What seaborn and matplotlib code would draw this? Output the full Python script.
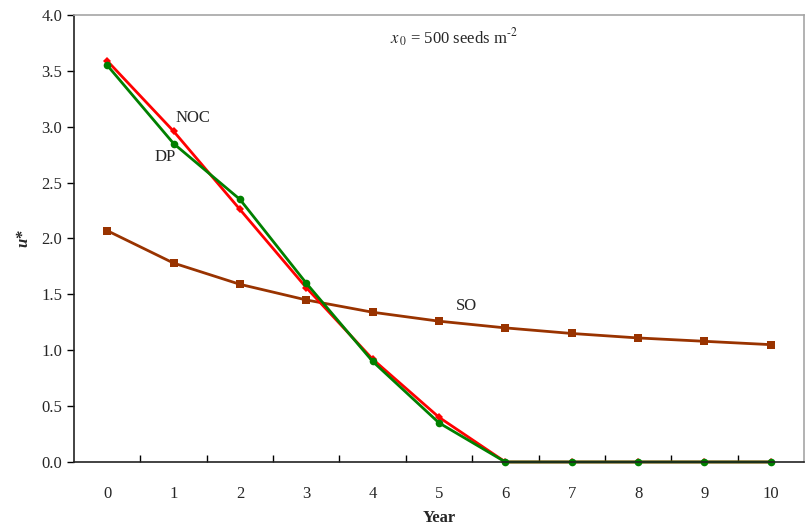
import pandas as pd
import matplotlib
matplotlib.use("Agg")
import matplotlib.pyplot as plt
import seaborn as sns

years = list(range(11))
noc = [3.59, 2.96, 2.26, 1.56, 0.92, 0.40, 0, 0, 0, 0, 0]
dp = [3.55, 2.85, 2.35, 1.60, 0.90, 0.35, 0, 0, 0, 0, 0]
so = [2.07, 1.78, 1.59, 1.45, 1.34, 1.26, 1.20, 1.15, 1.11, 1.08, 1.05]

sns.set_style("white")
plt.rcParams['font.family'] = ['Liberation Serif', 'DejaVu Serif']

df = pd.DataFrame({"Year": years, "NOC": noc, "DP": dp, "SO": so})

fig = plt.figure(figsize=(8.09, 5.26), dpi=100)
ax = fig.add_axes([0.0915, 0.1217, 0.9023, 0.8498])

sns.lineplot(data=df, x="Year", y="SO", ax=ax, color="#993300", marker="s",
             markersize=6, markeredgewidth=0, linewidth=2, clip_on=False)
sns.lineplot(data=df, x="Year", y="NOC", ax=ax, color="#ff0000", marker="D",
             markersize=4.5, markeredgewidth=0, linewidth=2, clip_on=False)
sns.lineplot(data=df, x="Year", y="DP", ax=ax, color="#008000", marker="o",
             markersize=5.5, markeredgewidth=0, linewidth=2, clip_on=False)

ax.set_xlim(-0.5, 10.5)
ax.set_ylim(0, 4.0)
ax.set_xticks(years)
ax.set_xticklabels([str(y) for y in years], fontsize=12)
ax.set_xticks([y + 0.5 for y in years[:-1]], minor=True)
ax.tick_params(axis="x", which="major", length=0, pad=17)
ax.tick_params(axis="x", which="minor", direction="in", length=5, width=1, color="black", bottom=True)
ax.set_yticks([0, 0.5, 1.0, 1.5, 2.0, 2.5, 3.0, 3.5, 4.0])
ax.set_yticklabels([f"{v:.1f}" for v in [0, 0.5, 1.0, 1.5, 2.0, 2.5, 3.0, 3.5, 4.0]], fontsize=12)
ax.tick_params(axis="y", direction="out", length=5, width=1, color="black", left=True)

for s in ["left", "bottom"]:
    ax.spines[s].set_color("#222222")
    ax.spines[s].set_linewidth(1.2)
for s in ["top", "right"]:
    ax.spines[s].set_color("#a6a6a6")
    ax.spines[s].set_linewidth(1.2)

ax.set_xlabel("Year", fontsize=12, fontweight="bold", labelpad=6)
ax.set_ylabel("u*", fontsize=12, fontweight="bold", fontstyle="italic", labelpad=7)

ax.text(1.03, 3.04, "NOC", fontsize=12)
ax.text(0.72, 2.69, "DP", fontsize=12)
ax.text(5.25, 1.36, "SO", fontsize=12)
ax.text(5.23, 3.74, r"$x$$_{\,0}$ = 500 seeds m$^{\text{-2}}$", fontsize=12, ha="center",
        math_fontfamily="stix")

fig.savefig("out.png", dpi=100)
